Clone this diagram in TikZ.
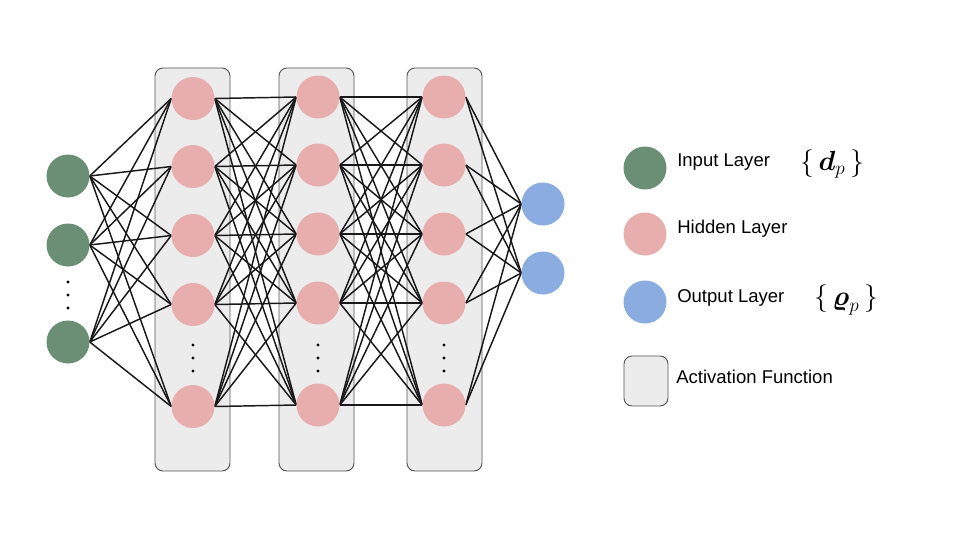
\documentclass[tikz,border=0pt]{standalone}
\usepackage{fontspec}
\usepackage{amsmath}
\setmainfont{Liberation Sans}
\definecolor{ingreen}{RGB}{106,143,116}
\definecolor{hidpink}{RGB}{232,174,173}
\definecolor{outblue}{RGB}{138,172,224}
\definecolor{boxfill}{RGB}{236,236,236}
\definecolor{boxline}{RGB}{85,85,85}
\pgfdeclarelayer{boxes}
\pgfdeclarelayer{edges}
\pgfsetlayers{boxes,edges,main}
\begin{document}
\begin{tikzpicture}[x=0.75pt,y=-0.75pt,
  neuron/.style={circle,minimum size=32.25pt,inner sep=0pt,draw=none},
  inneuron/.style={neuron,fill=ingreen},
  hidneuron/.style={neuron,fill=hidpink},
  outneuron/.style={neuron,fill=outblue},
  actbox/.style={draw=boxline,fill=boxfill,rounded corners=6pt,line width=0.7pt,inner sep=0pt},
  conn/.style={draw=black!90,line width=1.1pt},
  vdot/.style={circle,fill=black,inner sep=0pt,minimum size=2.6pt},
  legtext/.style={anchor=base west,inner sep=0pt,font=\fontsize{13.9}{16}\selectfont},
  mathlbl/.style={inner sep=0pt,font=\fontsize{21}{25}\selectfont}]
\useasboundingbox (0,0) rectangle (960,540);

% input layer
\node[inneuron] (i1) at (68,176) {};
\node[inneuron] (i2) at (68,245) {};
\node[inneuron] (i3) at (68,342) {};
\node[vdot] (id1) at (68,282) {};
\node[vdot] (id2) at (68,295) {};
\node[vdot] (id3) at (68,308) {};

% hidden layers
\foreach \l/\x/\dy in {1/193/1.5,2/318/0,3/444/0}{
  \node[hidneuron] (h\l-1) at (\x,97+\dy) {};
  \node[hidneuron] (h\l-2) at (\x,165+\dy) {};
  \node[hidneuron] (h\l-3) at (\x,234+\dy) {};
  \node[hidneuron] (h\l-4) at (\x,303+\dy) {};
  \node[hidneuron] (h\l-5) at (\x,405+\dy) {};
  \node[vdot] (hd\l-1) at (\x,345) {};
  \node[vdot] (hd\l-2) at (\x,358) {};
  \node[vdot] (hd\l-3) at (\x,371) {};
}

% output layer
\node[outneuron] (o1) at (543,204) {};
\node[outneuron] (o2) at (543,273) {};

% activation boxes
\begin{pgfonlayer}{boxes}
\node[actbox,minimum width=56.25pt,minimum height=302.25pt] (b1) at (192.5,269.5) {};
\node[actbox,minimum width=56.25pt,minimum height=302.25pt] (b2) at (316.5,269.5) {};
\node[actbox,minimum width=56.25pt,minimum height=302.25pt] (b3) at (444.5,269.5) {};
\end{pgfonlayer}

% connections
\begin{pgfonlayer}{edges}
\foreach \i in {1,2,3}{
  \foreach \j in {1,...,5}{
    \draw[conn] (i\i.east) -- (h1-\j.west);
  }
}
\foreach \i in {1,...,5}{
  \foreach \j in {1,...,5}{
    \draw[conn] (h1-\i.east) -- (h2-\j.west);
    \draw[conn] (h2-\i.east) -- (h3-\j.west);
  }
  \draw[conn] (h3-\i.east) -- (o1.west);
  \draw[conn] (h3-\i.east) -- (o2.west);
}
\end{pgfonlayer}

% legend
\node[inneuron] (l1) at (645,168) {};
\node[hidneuron] (l2) at (645,234) {};
\node[outneuron] (l3) at (645,302) {};
\node[actbox,minimum width=33pt,minimum height=37.5pt] (l4) at (646,381) {};
\node[legtext] (t1) at (677,166) {Input Layer};
\node[legtext] (t2) at (677,233) {Hidden Layer};
\node[legtext] (t3) at (677,302) {Output Layer};
\node[legtext] (t4) at (676,383) {Activation Function};
\node[mathlbl] (m1) at (832,164) {$\{\,\boldsymbol{d}_p\,\}$};
\node[mathlbl] (m2) at (846,300) {$\{\,\boldsymbol{\varrho}_p\,\}$};
\end{tikzpicture}
\end{document}
